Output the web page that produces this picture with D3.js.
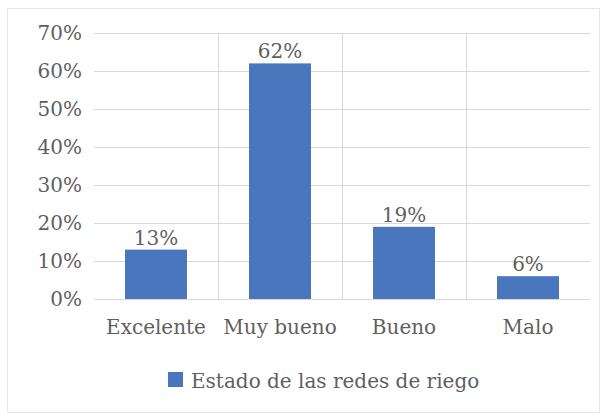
<!DOCTYPE html>
<html><head><meta charset="utf-8">
<script src="https://cdn.jsdelivr.net/npm/d3@7"></script>
<style>
html,body{margin:0;padding:0;background:#fff;}
svg{display:block;}
text{font-family:"DejaVu Serif","Liberation Serif",serif;fill:#5f5f5f;}
</style></head>
<body>
<svg id="c" width="606" height="415"></svg>
<script>
const categories = ["Excelente", "Muy bueno", "Bueno", "Malo"];
const values = [0.13, 0.62, 0.19, 0.06];
const valueLabels = ["13%", "62%", "19%", "6%"];
const yTicks = [0, 0.1, 0.2, 0.3, 0.4, 0.5, 0.6, 0.7];
const seriesName = "Estado de las redes de riego";

const svg = d3.select("#c");
const W = 606, H = 415;
const FS = 20;
const m = {left: 94, right: 16, top: 33, bottom: 116};
const x = d3.scaleBand().domain(categories).range([m.left, W - m.right]).paddingInner(0.5).paddingOuter(0.25);
const y = d3.scaleLinear().domain([0, 0.7]).range([H - m.bottom, m.top]);

svg.append("rect").attr("x", 7.5).attr("y", 8.5).attr("width", 592).attr("height", 404)
  .attr("fill", "#fff").attr("stroke", "#e6e6e6");

// horizontal gridlines
svg.append("g").selectAll("line").data(yTicks).join("line")
  .attr("x1", m.left).attr("x2", W - m.right)
  .attr("y1", d => Math.round(y(d)) + 0.5).attr("y2", d => Math.round(y(d)) + 0.5)
  .attr("stroke", "#d9d9d9").attr("stroke-width", 1);
// vertical gridlines between categories
svg.append("g").selectAll("line").data(categories.slice(1)).join("line")
  .attr("x1", d => Math.round(x(d) - x.bandwidth() / 2) + 0.5)
  .attr("x2", d => Math.round(x(d) - x.bandwidth() / 2) + 0.5)
  .attr("y1", y(0.7)).attr("y2", y(0))
  .attr("stroke", "#d9d9d9");

// y axis labels
const yAxis = d3.axisLeft(y).tickValues(yTicks).tickFormat(d3.format(".0%")).tickSize(0).tickPadding(12);
const gy = svg.append("g").attr("transform", `translate(${m.left},0)`).call(yAxis);
gy.select(".domain").remove();
gy.selectAll("text").style("font-family", '"DejaVu Serif",serif').attr("font-size", FS).attr("fill", "#5f5f5f");

// bars
svg.append("g").selectAll("rect").data(values).join("rect")
  .attr("x", (d, i) => x(categories[i]))
  .attr("width", x.bandwidth())
  .attr("y", d => y(d))
  .attr("height", d => y(0) - y(d))
  .attr("fill", "#4a76bd");

// value labels
svg.append("g").selectAll("text").data(values).join("text")
  .attr("x", (d, i) => x(categories[i]) + x.bandwidth() / 2)
  .attr("y", d => y(d) - 5)
  .attr("text-anchor", "middle").attr("font-size", FS)
  .text((d, i) => valueLabels[i]);

// x axis labels
const xAxis = d3.axisBottom(x).tickSize(0).tickPadding(21);
const gx = svg.append("g").attr("transform", `translate(0,${y(0)})`).call(xAxis);
gx.select(".domain").remove();
gx.selectAll("text").style("font-family", '"DejaVu Serif",serif').attr("font-size", FS).attr("fill", "#5f5f5f");

// legend
const lg = svg.append("g").attr("transform", "translate(168,372)");
lg.append("rect").attr("width", 15).attr("height", 15).attr("fill", "#4a76bd");
lg.append("text").attr("x", 23).attr("y", 16).attr("font-size", FS).text(seriesName);
</script>
</body></html>
